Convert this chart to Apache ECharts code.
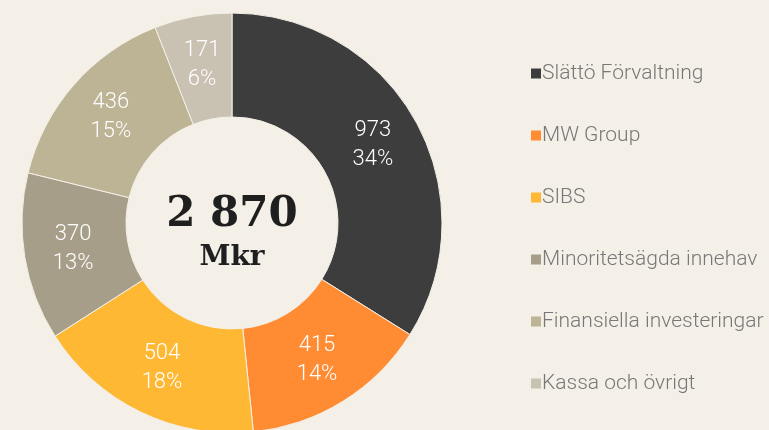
<!DOCTYPE html>
<html><head><meta charset="utf-8">
<script src="https://cdn.jsdelivr.net/npm/echarts@6/dist/echarts.min.js"></script>
<style>html,body{margin:0;padding:0;background:#f4f0e7;}#c{width:769px;height:430px;}</style>
</head><body><div id="c"></div>
<script>
const categories = ['Slättö Förvaltning','MW Group','SIBS','Minoritetsägda innehav','Finansiella investeringar','Kassa och övrigt'];
const values = [973, 415, 504, 370, 436, 171];
const percents = ['34%','14%','18%','13%','15%','6%'];
const colors = ['#3d3d3d','#ff8c33','#ffb833','#a69e88','#bdb395','#c9c1b2'];
const totalLabel = '2 870';
const unitLabel = 'Mkr';

const chart = echarts.init(document.getElementById('c'));
chart.setOption({
  backgroundColor: '#f4f0e7',
  animation: false,
  legend: {
    orient: 'vertical', left: 524, top: 58,
    icon: 'rect', itemWidth: 12, itemHeight: 12, itemGap: 41, selectedMode: false,
    data: categories,
    textStyle: { color: '#777777', fontFamily: 'Roboto', fontWeight: 300, fontSize: 21, padding: [0,0,0,-5] }
  },
  series: [{
    type: 'pie',
    center: [232, 223], radius: [106, 210],
    startAngle: 90, clockwise: true,
    color: colors,
    itemStyle: { borderColor: '#f4f0e7', borderWidth: 1 },
    label: {
      show: true, position: 'inside',
      formatter: p => values[p.dataIndex] + '\n' + percents[p.dataIndex],
      color: '#ffffff', fontFamily: 'Roboto', fontWeight: 300, fontSize: 22, lineHeight: 29
    },
    labelLine: { show: false },
    emphasis: { disabled: true },
    data: categories.map((c, i) => ({ name: c, value: values[i] }))
  }, {
    type: 'pie', center: [232, 223], radius: [0, 0], silent: true,
    label: {
      show: true, position: 'center',
      padding: [20, 0, 0, 0],
      formatter: '{a|' + totalLabel + '}\n{b|' + unitLabel + '}',
      rich: {
        a: { fontFamily: 'DejaVu Serif', fontWeight: 'bold', fontSize: 42, color: '#1f1f1f', lineHeight: 50 },
        b: { fontFamily: 'DejaVu Serif', fontWeight: 'bold', fontSize: 28, color: '#1f1f1f', lineHeight: 36 }
      }
    },
    data: [{ value: 1, name: '' }]
  }]
});
</script></body></html>
